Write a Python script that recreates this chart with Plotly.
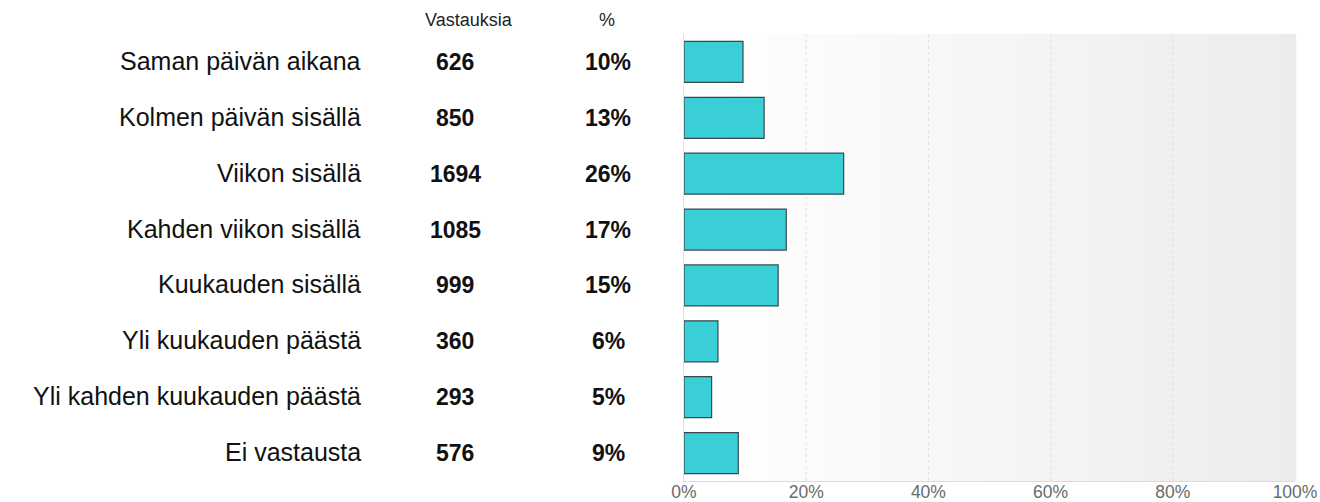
import plotly.graph_objects as go

categories = ["Saman päivän aikana", "Kolmen päivän sisällä", "Viikon sisällä",
              "Kahden viikon sisällä", "Kuukauden sisällä", "Yli kuukauden päästä",
              "Yli kahden kuukauden päästä", "Ei vastausta"]
counts = [626, 850, 1694, 1085, 999, 360, 293, 576]
pct_labels = ["10%", "13%", "26%", "17%", "15%", "6%", "5%", "9%"]
x_ticks = [0, 20, 40, 60, 80, 100]
x_ticktext = ["0%", "20%", "40%", "60%", "80%", "100%"]

total = sum(counts)
shares = [c / total * 100 for c in counts]

W, H = 1320, 502
L, R, T, B = 684, 25, 34, 21
PW = W - L - R
PH = H - T - B

def px(xpix):
    return (xpix - L) / PW

def py(ypix):
    return (H - B - ypix) / PH

fig = go.Figure()
fig.add_trace(go.Bar(
    y=categories, x=shares, orientation="h",
    marker=dict(color="#3acfd6", line=dict(color="#3a4a4c", width=1.2)),
    width=0.733, hoverinfo="skip"))

shapes = []
N = 80
for i in range(N):
    g = int(round(255 - (255 - 236) * (i + 0.5) / N))
    shapes.append(dict(type="rect", xref="x domain", yref="y domain",
                       x0=i / N, x1=(i + 1) / N + 0.002, y0=0, y1=1,
                       fillcolor=f"rgb({g},{g},{g})", line=dict(width=0), layer="below"))
for t in x_ticks[1:-1]:
    shapes.append(dict(type="line", xref="x", yref="y domain", x0=t, x1=t, y0=0, y1=1,
                       line=dict(color="#dedede", width=1, dash="3px,3px"), layer="below"))
fig.update_layout(shapes=shapes)

ann = []
for cat, c, p in zip(categories, counts, pct_labels):
    ann.append(dict(x=px(363), y=cat, xref="paper", yref="y", text=cat, showarrow=False,
                    xanchor="right", yshift=1, font=dict(size=25, color="#111")))
    ann.append(dict(x=px(455), y=cat, xref="paper", yref="y", text=f"<b>{c}</b>", showarrow=False,
                    xanchor="center", yshift=0, font=dict(size=23, color="#111")))
    ann.append(dict(x=px(608), y=cat, xref="paper", yref="y", text=f"<b>{p}</b>", showarrow=False,
                    xanchor="center", yshift=0, font=dict(size=23, color="#111")))
ann.append(dict(x=px(469), y=py(20), xref="paper", yref="paper", text="Vastauksia", showarrow=False,
                xanchor="center", yanchor="middle", font=dict(size=18, color="#222")))
ann.append(dict(x=px(607), y=py(20), xref="paper", yref="paper", text="%", showarrow=False,
                xanchor="center", yanchor="middle", font=dict(size=18, color="#222")))
fig.update_layout(annotations=ann)

fig.update_layout(
    width=W, height=H, margin=dict(l=L, r=R, t=T, b=B, pad=0, autoexpand=False),
    paper_bgcolor="white", plot_bgcolor="white", showlegend=False,
    font=dict(family="Liberation Sans, Arial, sans-serif"),
    xaxis=dict(range=[0, 100], tickvals=x_ticks, ticktext=x_ticktext, showgrid=False,
               zeroline=False, showline=True, linecolor="#dcdcdc", linewidth=1, mirror=False,
               tickfont=dict(size=17.5, color="#6a6a6a"), ticks="", fixedrange=True,
               automargin=False, ticklabelstandoff=-5),
    yaxis=dict(autorange="reversed", showticklabels=False, showgrid=False, zeroline=False,
               showline=True, linecolor="#e2e2e2", fixedrange=True, automargin=False),
)
fig.write_html("out.html", post_script="document.body.style.margin='0';",
               config={"displayModeBar": False})
